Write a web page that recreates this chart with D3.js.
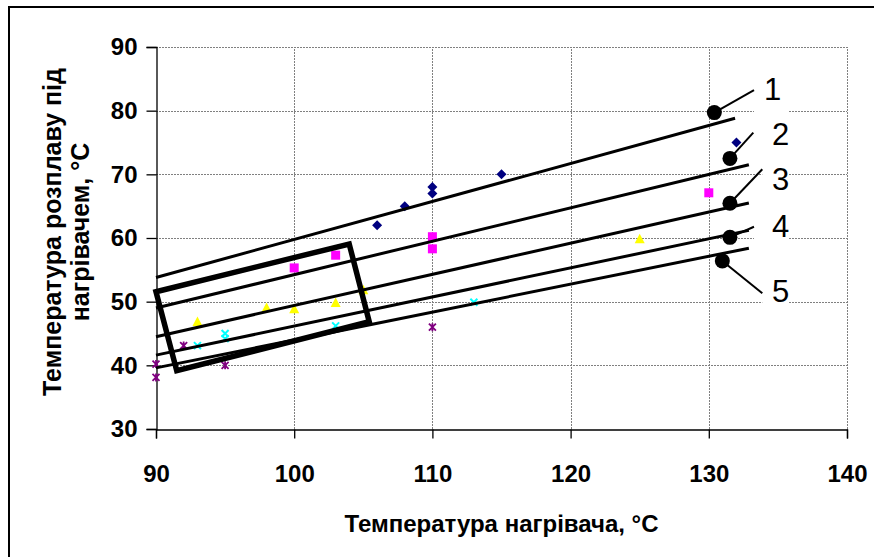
<!DOCTYPE html>
<html><head><meta charset="utf-8">
<script src="https://cdn.jsdelivr.net/npm/d3@7"></script>
<style>body{margin:0;background:#fff}svg{display:block}</style>
</head><body>
<svg id="c" width="874" height="557"></svg>
<script>
// ---- data ----
const xTicks = [90, 100, 110, 120, 130, 140];
const yTicks = [30, 40, 50, 60, 70, 80, 90];
const xTitle = "Температура нагрівача, °C";
const yTitle = ["Температура розплаву під", "нагрівачем, °C"];

const s1x = [106, 108, 110, 110, 115, 132];
const s1y = [62, 65, 67, 68, 70, 75];
const s2x = [100, 103, 110, 110, 130];
const s2y = [55.3, 57.3, 60.2, 58.3, 67.1];
const s3x = [93, 98, 100, 103, 105, 125];
const s3y = [46.8, 49, 48.8, 49.8, 51.8, 59.8];
const s4x = [93, 95, 95, 103, 113];
const s4y = [43.1, 45, 44.2, 46.2, 49.9];
const s5x = [90, 90, 92, 95, 110];
const s5y = [40.2, 38.1, 43.1, 40, 46];

// trend lines: [x0, y0, x1, y1]
const lineX0 = [90, 90, 90, 90, 90];
const lineY0 = [53.8, 49.0, 44.5, 41.6, 39.6];
const lineX1 = [131.9, 132.9, 132.9, 132.9, 132.9];
const lineY1 = [78.8, 71.5, 65.5, 61.2, 58.4];

// highlighted rectangle corners (data units)
const rectX = [90, 103.98, 105.43, 91.5];
const rectY = [51.56, 59.06, 46.85, 39.15];

// callouts
const calloutLabels = ["1", "2", "3", "4", "5"];
const dotX = [130.4, 131.53, 131.53, 131.53, 130.98];
const dotY = [79.7, 72.5, 65.45, 60.1, 56.4];
const leadX = [133.27, 133.22, 133.87, 133.27, 133.87];
const leadY = [83.24, 76.54, 70.79, 61.77, 51.31];
const labX = [134.0, 134.57, 134.57, 134.57, 134.57];
const labY = [81.67, 74.6, 67.54, 60.2, 50.0];

// ---- drawing ----
const svg = d3.select("#c");
const x = d3.scaleLinear().domain([90, 140]).range([156, 847]);
const y = d3.scaleLinear().domain([30, 90]).range([429, 47]);
const FONT = "Liberation Sans, Arial, sans-serif";

// outer frame (left & top)
svg.append("path").attr("d", "M9,557 V7 H874").attr("fill", "none").attr("stroke", "#000").attr("stroke-width", 2);

// gridlines
const grid = svg.append("g").attr("stroke", "#808080").attr("stroke-width", 1).attr("stroke-dasharray", "2,1");
grid.selectAll("line.h").data(yTicks.filter(d => d > 30)).join("line")
  .attr("x1", x(90)).attr("x2", x(140)).attr("y1", d => Math.round(y(d)) + 0.5).attr("y2", d => Math.round(y(d)) + 0.5);
grid.selectAll("line.v").data(xTicks.filter(d => d > 90)).join("line")
  .attr("y1", y(30)).attr("y2", y(90)).attr("x1", d => Math.round(x(d)) + 0.5).attr("x2", d => Math.round(x(d)) + 0.5);

// axes
const ax = svg.append("g").attr("transform", `translate(0,${Math.round(y(30)) + 0.5})`)
  .call(d3.axisBottom(x).tickValues(xTicks).tickSize(9).tickPadding(26).tickFormat(d3.format("d")));
const ay = svg.append("g").attr("transform", `translate(${Math.round(x(90)) + 0.5},0)`)
  .call(d3.axisLeft(y).tickValues(yTicks).tickSize(10).tickPadding(9).tickFormat(d3.format("d")));
[ax, ay].forEach(g => {
  g.select(".domain").attr("stroke", "#000").attr("stroke-width", 1.3);
  g.selectAll(".tick line").attr("stroke", "#000").attr("stroke-width", 1.3);
  g.selectAll(".tick text").attr("fill", "#000").attr("font-family", FONT).attr("font-weight", "bold").attr("font-size", 24);
});

// markers
const mk = svg.append("g");
d3.range(s1x.length).forEach(i => {
  const cx = x(s1x[i]), cy = y(s1y[i]);
  mk.append("path").attr("d", `M${cx},${cy - 5}L${cx + 5},${cy}L${cx},${cy + 5}L${cx - 5},${cy}Z`).attr("fill", "#000080");
});
d3.range(s2x.length).forEach(i => {
  mk.append("rect").attr("x", x(s2x[i]) - 4.5).attr("y", y(s2y[i]) - 4.5).attr("width", 9).attr("height", 9).attr("fill", "#FF00FF");
});
d3.range(s3x.length).forEach(i => {
  const cx = x(s3x[i]), cy = y(s3y[i]);
  mk.append("path").attr("d", `M${cx},${cy - 5.5}L${cx + 5},${cy + 4}L${cx - 5},${cy + 4}Z`).attr("fill", "#FFFF00");
});
d3.range(s4x.length).forEach(i => {
  const cx = x(s4x[i]), cy = y(s4y[i]);
  mk.append("path").attr("d", `M${cx - 3.5},${cy - 3.5}L${cx + 3.5},${cy + 3.5}M${cx + 3.5},${cy - 3.5}L${cx - 3.5},${cy + 3.5}`)
    .attr("stroke", "#00FFFF").attr("stroke-width", 2);
});
d3.range(s5x.length).forEach(i => {
  const cx = x(s5x[i]), cy = y(s5y[i]);
  mk.append("path").attr("d", `M${cx - 3.5},${cy - 3.5}L${cx + 3.5},${cy + 3.5}M${cx + 3.5},${cy - 3.5}L${cx - 3.5},${cy + 3.5}M${cx},${cy - 4}V${cy + 4}`)
    .attr("stroke", "#800080").attr("stroke-width", 1.8);
});

// trend lines
svg.append("g").selectAll("line").data(lineX0).join("line")
  .attr("x1", (d, i) => x(lineX0[i])).attr("y1", (d, i) => y(lineY0[i]))
  .attr("x2", (d, i) => x(lineX1[i])).attr("y2", (d, i) => y(lineY1[i]))
  .attr("stroke", "#000").attr("stroke-width", 3);

// rectangle
svg.append("path")
  .attr("d", "M" + rectX.map((d, i) => `${x(d)},${y(rectY[i])}`).join("L") + "Z")
  .attr("fill", "none").attr("stroke", "#000").attr("stroke-width", 5.5).attr("stroke-linejoin", "miter");

// callouts
const co = svg.append("g");
calloutLabels.forEach((t, i) => {
  co.append("rect").attr("x", x(leadX[i])).attr("y", y(labY[i]) - 32).attr("width", 789 - x(leadX[i])).attr("height", 44).attr("fill", "#fff");
});
calloutLabels.forEach((t, i) => {
  co.append("line").attr("x1", x(dotX[i])).attr("y1", y(dotY[i])).attr("x2", x(leadX[i])).attr("y2", y(leadY[i]))
    .attr("stroke", "#000").attr("stroke-width", 2);
  co.append("circle").attr("cx", x(dotX[i])).attr("cy", y(dotY[i])).attr("r", 7.5).attr("fill", "#000");
  co.append("text").attr("x", x(labX[i])).attr("y", y(labY[i])).text(t)
    .attr("font-family", FONT).attr("font-size", 31).attr("fill", "#000");
});

// titles
svg.append("text").attr("x", (x(90) + x(140)) / 2).attr("y", 532).attr("text-anchor", "middle")
  .attr("font-family", FONT).attr("font-weight", "bold").attr("font-size", 24).text(xTitle);
const yt = svg.append("text").attr("transform", `translate(0,${(y(30) + y(90)) / 2 - 6}) rotate(-90)`)
  .attr("text-anchor", "middle").attr("font-family", FONT).attr("font-weight", "bold").attr("font-size", 25);
yt.append("tspan").attr("x", 0).attr("y", 61).text(yTitle[0]);
yt.append("tspan").attr("x", 0).attr("y", 89).text(yTitle[1]);
</script>
</body></html>
